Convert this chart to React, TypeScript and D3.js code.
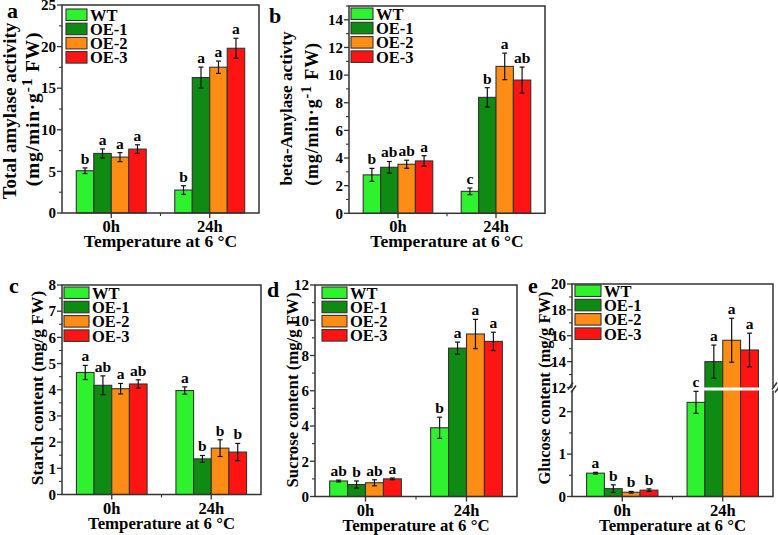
import * as d3 from "d3";

const groups = ["0h", "24h"];
const lines = ["WT", "OE-1", "OE-2", "OE-3"];
const lineColors = ["#2ef22e", "#0f8a12", "#ff8c14", "#ff1414"];

// a: total amylase
const totalAmylase = [[5.08, 7.16, 6.72, 7.68], [2.76, 16.28, 17.52, 19.8]];
const totalAmylaseErr = [[0.34, 0.54, 0.54, 0.52], [0.52, 1.26, 0.74, 1.2]];
const totalAmylaseSig = [["b", "a", "a", "a"], ["b", "a", "a", "a"]];
const aTicks = [0, 5, 10, 15, 20, 25];
const aMinor = [2.5, 7.5, 12.5, 17.5, 22.5];

// b: beta-amylase
const betaAmylase = [[2.78, 3.33, 3.55, 3.79], [1.59, 8.39, 10.63, 9.64]];
const betaAmylaseErr = [[0.47, 0.42, 0.29, 0.38], [0.24, 0.7, 0.96, 0.94]];
const betaAmylaseSig = [["b", "ab", "ab", "a"], ["c", "b", "a", "ab"]];
const bTicks = [0, 2, 4, 6, 8, 10, 12, 14];
const bMinor = [1, 3, 5, 7, 9, 11, 13, 15];

// c: starch
const starch = [[4.66, 4.17, 4.04, 4.22], [3.97, 1.36, 1.77, 1.62]];
const starchErr = [[0.27, 0.36, 0.2, 0.16], [0.14, 0.13, 0.32, 0.33]];
const starchSig = [["a", "ab", "a", "ab"], ["a", "b", "b", "b"]];
const cTicks = [0, 1, 2, 3, 4, 5, 6, 7, 8];
const cMinor = [0.5, 1.5, 2.5, 3.5, 4.5, 5.5, 6.5, 7.5];

// d: sucrose
const sucrose = [[0.88, 0.68, 0.78, 1.0], [3.9, 8.42, 9.22, 8.8]];
const sucroseErr = [[0.05, 0.2, 0.17, 0.05], [0.6, 0.34, 0.83, 0.52]];
const sucroseSig = [["ab", "b", "ab", "a"], ["b", "a", "a", "a"]];
const dTicks = [0, 2, 4, 6, 8, 10, 12];
const dMinor = [1, 3, 5, 7, 9, 11];

// e: glucose (broken axis)
const glucose = [[0.55, 0.185, 0.1, 0.15], [2.22, 14.0, 15.65, 14.9]];
const glucoseErr = [[0.02, 0.09, 0.02, 0.03], [0.26, 1.28, 1.7, 1.3]];
const glucoseSig = [["a", "b", "b", "b"], ["c", "a", "a", "a"]];
const eTicks = [0, 1, 2, 12, 14, 16, 18, 20];
const eMinor = [0.5, 1.5, 13, 15, 17, 19];

const FONT = "'Liberation Serif', 'Times New Roman', serif";
const AXIS = "#333";

type TitleLine = { text: string; sup?: string; rest?: string; x: number; y: number; size: number; ls?: number };

type Spec = {
  label: string;
  labelX: number;
  labelY: number;
  x0: number;
  x1: number;
  yTop: number;
  yBot: number;
  y: d3.ScaleLinear<number, number>;
  ticks: number[];
  minor: number[];
  values: number[][];
  errs: number[][];
  sig: string[][];
  title: TitleLine[];
  xTitleSize: number;
  legend: { x: number; y: number; sw: number; step: number };
  breakAt?: [number, number];
};

function Panel({ p }: { p: Spec }) {
  const x = d3.scaleBand<string>().domain(groups).range([p.x0, p.x1]);
  const gw = x.bandwidth() * 0.71;
  const inner = d3.scaleBand<string>().domain(lines).range([-gw / 2, gw / 2]);
  const y = p.y;
  const cx = (g: string) => (x(g) ?? 0) + x.bandwidth() / 2;

  return (
    <g fontFamily={FONT} fontWeight="bold">
      {groups.map((g, gi) =>
        lines.map((l, li) => {
          const v = p.values[gi][li];
          const bx = cx(g) + (inner(l) ?? 0);
          return (
            <rect
              key={g + l}
              x={bx}
              y={y(v)}
              width={inner.bandwidth()}
              height={y(0) - y(v)}
              fill={lineColors[li]}
              stroke="#333"
              strokeWidth={1.1}
            />
          );
        })
      )}
      {p.breakAt && (
        <rect
          x={p.x0 - 3}
          y={p.breakAt[0]}
          width={p.x1 - p.x0 + 6}
          height={p.breakAt[1] - p.breakAt[0]}
          fill="#fff"
        />
      )}
      {groups.map((g, gi) =>
        lines.map((l, li) => {
          const v = p.values[gi][li];
          const e = p.errs[gi][li];
          const mx = cx(g) + (inner(l) ?? 0) + inner.bandwidth() / 2;
          return (
            <g key={"e" + g + l}>
              <line x1={mx} x2={mx} y1={y(v + e)} y2={y(v - e)} stroke="#111" strokeWidth={1.2} />
              <line x1={mx - 2.5} x2={mx + 2.5} y1={y(v + e)} y2={y(v + e)} stroke="#111" strokeWidth={1.2} />
              <line x1={mx - 2.5} x2={mx + 2.5} y1={y(v - e)} y2={y(v - e)} stroke="#111" strokeWidth={1.2} />
              <text x={mx} y={y(v + e) - 4} textAnchor="middle" fontSize={15.5}>
                {p.sig[gi][li]}
              </text>
            </g>
          );
        })
      )}
      {/* frame */}
      {p.breakAt ? (
        <g stroke={AXIS} strokeWidth={1.5} fill="none">
          <path d={`M${p.x0},${p.breakAt[0]}V${p.yTop}H${p.x1}V${p.breakAt[0]}`} />
          <path d={`M${p.x0},${p.breakAt[1]}V${p.yBot}H${p.x1}V${p.breakAt[1]}`} />
          {[p.x0, p.x1 + 3].map((bx) => (
            <g key={bx}>
              <line x1={bx - 4} y1={p.breakAt![0] + 2} x2={bx + 1} y2={p.breakAt![0] - 5} />
              <line x1={bx - 1} y1={p.breakAt![1] + 2} x2={bx + 4} y2={p.breakAt![1] - 5} />
            </g>
          ))}
        </g>
      ) : (
        <rect
          x={p.x0}
          y={p.yTop}
          width={p.x1 - p.x0}
          height={p.yBot - p.yTop}
          fill="none"
          stroke={AXIS}
          strokeWidth={1.5}
        />
      )}
      {p.ticks.map((t) => (
        <g key={"t" + t}>
          <line x1={p.x0 - 5} x2={p.x0} y1={y(t)} y2={y(t)} stroke={AXIS} strokeWidth={1.3} />
          <text x={p.x0 - 6} y={y(t)} dy="0.35em" textAnchor="end" fontSize={15}>
            {t}
          </text>
        </g>
      ))}
      {p.minor.map((t) => (
        <line key={"m" + t} x1={p.x0 - 3} x2={p.x0} y1={y(t)} y2={y(t)} stroke={AXIS} strokeWidth={1.1} />
      ))}
      {groups.map((g) => (
        <g key={"x" + g}>
          <line x1={cx(g)} x2={cx(g)} y1={p.yBot} y2={p.yBot + 5} stroke={AXIS} strokeWidth={1.3} />
          <text x={cx(g)} y={p.yBot + 19} textAnchor="middle" fontSize={16.5}>
            {g}
          </text>
        </g>
      ))}
      <line
        x1={(p.x0 + p.x1) / 2}
        x2={(p.x0 + p.x1) / 2}
        y1={p.yBot}
        y2={p.yBot + 3}
        stroke={AXIS}
        strokeWidth={1.1}
      />
      <text x={(p.x0 + p.x1) / 2} y={p.yBot + 34} textAnchor="middle" fontSize={p.xTitleSize}>
        Temperature at 6 °C
      </text>
      {p.title.map((t, i) => (
        <text
          key={"yt" + i}
          transform={`translate(${t.x},${t.y}) rotate(-90)`}
          textAnchor="middle"
          dy="0.35em"
          fontSize={t.size}
          letterSpacing={t.ls ?? 0}
        >
          {t.text}
          {t.sup && (
            <tspan dy={-7} fontSize={t.size * 0.8}>
              {t.sup}
            </tspan>
          )}
          {t.rest && <tspan dy={t.sup ? 7 : 0}>{t.rest}</tspan>}
        </text>
      ))}
      <text x={p.labelX} y={p.labelY} fontSize={22}>
        {p.label}
      </text>
      {lines.map((l, i) => (
        <g key={"lg" + l}>
          <rect
            x={p.legend.x}
            y={p.legend.y + i * p.legend.step}
            width={p.legend.sw}
            height={11.5}
            fill={lineColors[i]}
            stroke="#333"
            strokeWidth={1.1}
          />
          <text
            x={p.legend.x + p.legend.sw + 3}
            y={p.legend.y + i * p.legend.step + 6}
            dy="0.35em"
            fontSize={16.5}
          >
            {l}
          </text>
        </g>
      ))}
    </g>
  );
}

const panels: Spec[] = [
  {
    label: "a",
    labelX: 7,
    labelY: 18,
    x0: 62,
    x1: 259,
    yTop: 5,
    yBot: 213,
    y: d3.scaleLinear().domain([0, 25]).range([213, 5]),
    ticks: aTicks,
    minor: aMinor,
    values: totalAmylase,
    errs: totalAmylaseErr,
    sig: totalAmylaseSig,
    title: [
      { text: "Total amylase activity", x: 9, y: 111, size: 19 },
      { text: "(mg/min·g", sup: "-1", rest: " FW)", x: 32, y: 109, size: 19.5, ls: 0.8 },
    ],
    xTitleSize: 17.5,
    legend: { x: 66, y: 9, sw: 21, step: 14.2 },
  },
  {
    label: "b",
    labelX: 269,
    labelY: 23,
    x0: 349,
    x1: 545,
    yTop: 6,
    yBot: 213.3,
    y: d3.scaleLinear().domain([0, 15]).range([213.3, 6]),
    ticks: bTicks,
    minor: bMinor,
    values: betaAmylase,
    errs: betaAmylaseErr,
    sig: betaAmylaseSig,
    title: [
      { text: "beta-Amylase activty", x: 286, y: 108.5, size: 17.2 },
      { text: "(mg/min·g", sup: "-1", rest: " FW)", x: 312, y: 114, size: 18, ls: 0.8 },
    ],
    xTitleSize: 17.5,
    legend: { x: 351, y: 8, sw: 22, step: 14.3 },
  },
  {
    label: "c",
    labelX: 9,
    labelY: 293,
    x0: 62,
    x1: 261,
    yTop: 285,
    yBot: 494.5,
    y: d3.scaleLinear().domain([0, 8]).range([494.5, 285]),
    ticks: cTicks,
    minor: cMinor,
    values: starch,
    errs: starchErr,
    sig: starchSig,
    title: [{ text: "Starch content (mg/g FW)", x: 37, y: 388, size: 17.5 }],
    xTitleSize: 16.8,
    legend: { x: 64, y: 287, sw: 25, step: 14.3 },
  },
  {
    label: "d",
    labelX: 267,
    labelY: 297,
    x0: 315,
    x1: 517,
    yTop: 285,
    yBot: 496.5,
    y: d3.scaleLinear().domain([0, 12]).range([496.5, 285]),
    ticks: dTicks,
    minor: dMinor,
    values: sucrose,
    errs: sucroseErr,
    sig: sucroseSig,
    title: [{ text: "Sucrose content (mg/g FW)", x: 292, y: 390, size: 16.8 }],
    xTitleSize: 16.8,
    legend: { x: 322, y: 287, sw: 25, step: 14.2 },
  },
  {
    label: "e",
    labelX: 528,
    labelY: 293,
    x0: 572,
    x1: 773,
    yTop: 284,
    yBot: 496.5,
    y: d3.scaleLinear().domain([0, 2.5, 12, 20]).range([496.5, 390.5, 387.5, 284]),
    ticks: eTicks,
    minor: eMinor,
    values: glucose,
    errs: glucoseErr,
    sig: glucoseSig,
    title: [{ text: "Glucose content (mg/g FW)", x: 544, y: 388, size: 16.5 }],
    xTitleSize: 16.8,
    legend: { x: 575, y: 285, sw: 26, step: 14.3 },
    breakAt: [387.5, 390.5],
  },
];

export default function App() {
  return (
    <svg
      width={778}
      height={535}
      style={{ position: "absolute", left: 0, top: 0, background: "#fff" }}
    >
      {panels.map((p) => (
        <Panel key={p.label} p={p} />
      ))}
    </svg>
  );
}
